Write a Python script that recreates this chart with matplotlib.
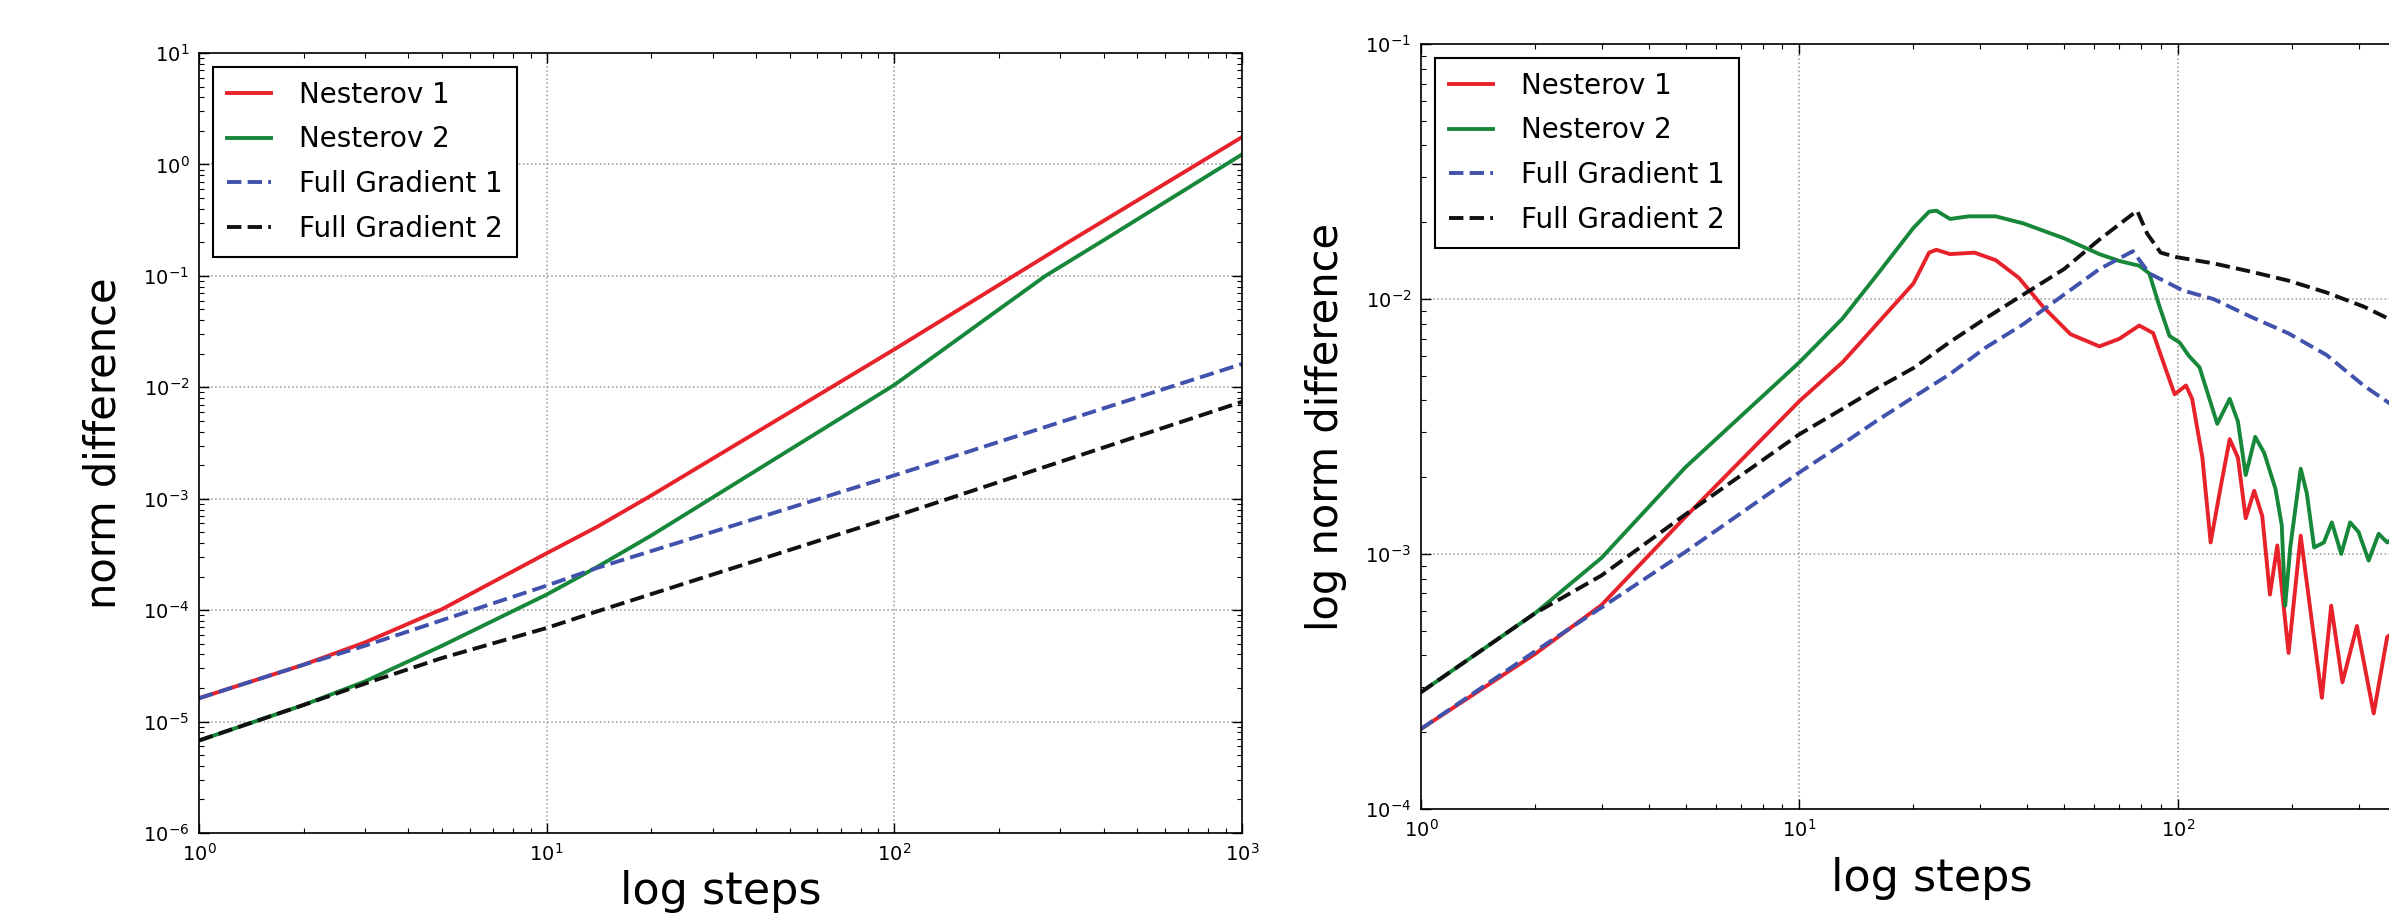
import numpy as np
import matplotlib
matplotlib.use("Agg")
import matplotlib.pyplot as plt

# left panel: norm difference vs steps
left_n1_steps = [1, 2, 3, 5, 10, 14, 20, 50, 100, 316, 1000]
left_nesterov1 = [1.62e-5, 3.24e-5, 5.13e-5, 1.02e-4, 3.24e-4, 5.62e-4, 1.07e-3, 5.96e-3, 2.19e-2, 0.200, 1.76]
left_n2_steps = [1, 2, 3, 5, 10, 14, 20, 50, 100, 200, 272, 400, 1000]
left_nesterov2 = [6.76e-6, 1.41e-5, 2.29e-5, 4.79e-5, 1.38e-4, 2.45e-4, 4.68e-4, 2.75e-3, 1.05e-2,
                  5.01e-2, 0.100, 0.209, 1.23]
left_fg_steps = [1, 2, 3, 5, 10, 14, 100, 1000]
left_fg1 = [1.62e-5, 3.24e-5, 4.79e-5, 8.13e-5, 1.66e-4, 2.40e-4, 1.62e-3, 1.62e-2]
left_fg2 = [6.76e-6, 1.41e-5, 2.19e-5, 3.72e-5, 6.92e-5, 9.77e-5, 6.92e-4, 7.41e-3]

# right panel: log norm difference vs steps
right_n1_steps = [1, 2, 3, 5, 10, 13, 16, 20, 22, 23, 25, 29, 33, 38, 44, 52, 62, 70, 79, 86, 92,
                  98, 105, 109, 116, 122, 130, 137, 144, 151, 159, 167, 175, 183, 196, 211, 227,
                  240, 254, 272, 297, 329, 357, 375]
right_n1 = [2.06e-4, 4.05e-4, 6.31e-4, 1.40e-3, 3.98e-3, 5.65e-3, 7.96e-3, 1.15e-2, 1.52e-2, 1.56e-2,
            1.50e-2, 1.52e-2, 1.42e-2, 1.21e-2, 9.33e-3, 7.28e-3, 6.52e-3, 6.98e-3, 7.87e-3, 7.35e-3,
            5.51e-3, 4.23e-3, 4.58e-3, 4.06e-3, 2.39e-3, 1.11e-3, 1.87e-3, 2.82e-3, 2.39e-3, 1.38e-3,
            1.77e-3, 1.41e-3, 6.93e-4, 1.08e-3, 4.09e-4, 1.18e-3, 5.12e-4, 2.73e-4, 6.27e-4, 3.14e-4,
            5.22e-4, 2.37e-4, 4.72e-4, 5.0e-4]
right_n2_steps = [1, 2, 3, 5, 10, 13, 16, 20, 22, 23, 25, 28, 33, 39, 50, 62, 70, 79, 84, 89, 95,
                  101, 107, 114, 119, 127, 137, 144, 151, 160, 169, 181, 188, 192, 198, 211, 219,
                  229, 243, 255, 270, 285, 300, 319, 339, 357, 375]
right_n2 = [2.87e-4, 5.85e-4, 9.66e-4, 2.19e-3, 5.65e-3, 8.39e-3, 1.24e-2, 1.90e-2, 2.20e-2, 2.22e-2,
            2.06e-2, 2.11e-2, 2.11e-2, 1.98e-2, 1.73e-2, 1.50e-2, 1.41e-2, 1.35e-2, 1.26e-2, 9.53e-3,
            7.16e-3, 6.75e-3, 5.97e-3, 5.40e-3, 4.41e-3, 3.24e-3, 4.06e-3, 3.31e-3, 2.04e-3, 2.88e-3,
            2.49e-3, 1.80e-3, 1.30e-3, 6.27e-4, 1.06e-3, 2.16e-3, 1.73e-3, 1.06e-3, 1.11e-3, 1.33e-3,
            1.00e-3, 1.33e-3, 1.22e-3, 9.42e-4, 1.20e-3, 1.11e-3, 1.17e-3]
right_fg1_steps = [1, 2, 3, 5, 10, 13, 16, 20, 25, 31, 39, 50, 62, 76, 84, 103, 124, 156, 196, 247,
                   310, 363, 400]
right_fg1 = [2.06e-4, 4.15e-4, 6.17e-4, 1.02e-3, 2.09e-3, 2.70e-3, 3.33e-3, 4.12e-3, 5.08e-3, 6.44e-3,
             7.96e-3, 1.04e-2, 1.31e-2, 1.54e-2, 1.26e-2, 1.08e-2, 1.00e-2, 8.51e-3, 7.33e-3, 6.03e-3,
             4.57e-3, 3.89e-3, 3.47e-3]
right_fg2_steps = [1, 2, 3, 5, 10, 13, 16, 20, 25, 31, 39, 50, 62, 78, 83, 90, 99, 124, 156, 196,
                   247, 310, 363, 400]
right_fg2 = [2.87e-4, 5.85e-4, 8.24e-4, 1.43e-3, 2.95e-3, 3.71e-3, 4.46e-3, 5.36e-3, 6.79e-3, 8.39e-3,
             1.04e-2, 1.31e-2, 1.71e-2, 2.22e-2, 1.80e-2, 1.52e-2, 1.46e-2, 1.38e-2, 1.28e-2, 1.18e-2,
             1.06e-2, 9.33e-3, 8.32e-3, 7.6e-3]

labels = ["Nesterov 1", "Nesterov 2", "Full Gradient 1", "Full Gradient 2"]
RED, GREEN, BLUE, BLACK = "#e8222a", "#17883a", "#4152ad", "#111111"
LW = 2.8


def style_axes(ax, xlim, ylim, ylabel, xpad, ypad):
    ax.set_xscale("log")
    ax.set_yscale("log")
    ax.set_xlim(*xlim)
    ax.set_ylim(*ylim)
    ax.grid(True, which="major", ls=":", color="0.6", lw=1.1)
    ax.tick_params(which="both", direction="in", top=True, right=True, labelsize=14, pad=7)
    ax.tick_params(which="major", length=7, width=1)
    ax.tick_params(which="minor", length=3.5, width=0.8)
    for s in ax.spines.values():
        s.set_linewidth(1.2)
    ax.set_xlabel("log steps", fontsize=32, labelpad=xpad)
    ax.set_ylabel(ylabel, fontsize=30, labelpad=ypad)
    leg = ax.legend(loc="upper left", fontsize=20, handlelength=1.6, handletextpad=1.0,
                    borderpad=0.5, labelspacing=0.6, fancybox=False, framealpha=1)
    leg.get_frame().set_edgecolor("black")
    leg.get_frame().set_linewidth(1.5)


fig = plt.figure(figsize=(23.89, 9.17), dpi=100)

ax1 = fig.add_axes([0.0833, 0.0916, 0.4366, 0.8506])
ax1.plot(left_n1_steps, left_nesterov1, color=RED, lw=LW, label=labels[0])
ax1.plot(left_n2_steps, left_nesterov2, color=GREEN, lw=LW, label=labels[1])
ax1.plot(left_fg_steps, left_fg1, color=BLUE, lw=LW, ls="--", label=labels[2])
ax1.plot(left_fg_steps, left_fg2, color=BLACK, lw=LW, ls="--", label=labels[3])
style_axes(ax1, (1, 1e3), (1e-6, 1e1), "norm difference", 4, 13)

ax2 = fig.add_axes([0.5948, 0.1178, 0.4276, 0.8342])
ax2.plot(right_n1_steps, right_n1, color=RED, lw=LW, label=labels[0])
ax2.plot(right_n2_steps, right_n2, color=GREEN, lw=LW, label=labels[1])
ax2.plot(right_fg1_steps, right_fg1, color=BLUE, lw=LW, ls="--", label=labels[2])
ax2.plot(right_fg2_steps, right_fg2, color=BLACK, lw=LW, ls="--", label=labels[3])
style_axes(ax2, (1, 500), (1e-4, 1e-1), "log norm difference", 12, 13)

fig.savefig("out.png", dpi=100)
